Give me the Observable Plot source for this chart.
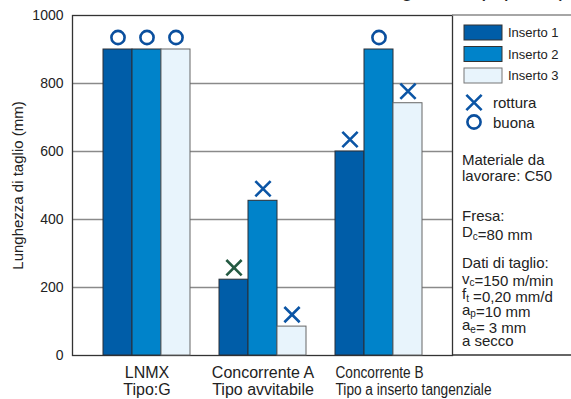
<!DOCTYPE html>
<html><head><meta charset="utf-8">
<script src="https://cdn.jsdelivr.net/npm/d3@7"></script>
<script src="https://cdn.jsdelivr.net/npm/@observablehq/plot@0.6"></script>
<style>
body{margin:0;background:#fff;}
#chart{position:relative;width:571px;height:399px;}
#chart svg{position:absolute;left:0;top:0;overflow:hidden}
</style></head><body><div id="chart"></div>
<script>
// ---- data ----
const groups = ["LNMX", "Concorrente A", "Concorrente B"];
const groupLine1 = ["LNMX", "Concorrente A", "Concorrente B"];
const groupLine2 = ["Tipo:G", "Tipo avvitabile", "Tipo a inserto tangenziale"];
const series = ["Inserto 1", "Inserto 2", "Inserto 3"];
const valuesLNMX = [900, 900, 900];
const valuesA = [223, 455, 85];
const valuesB = [600, 900, 742];
const outcomeLNMX = ["buona", "buona", "buona"];
const outcomeA = ["rottura", "rottura", "rottura"];
const outcomeB = ["rottura", "buona", "rottura"];
const yTicks = [0, 200, 400, 600, 800, 1000];
const seriesColors = ["#005da8", "#0083ca", "#e8f4fc"];
const legendNotes = ["Materiale da", "lavorare: C50"];
const yLabel = "Lunghezza di taglio (mm)";
const titleText = "Confronto della lunghezza (a parità)";

const allValues = [valuesLNMX, valuesA, valuesB];
const allOutcomes = [outcomeLNMX, outcomeA, outcomeB];
const rows = [];
groups.forEach((g, gi) => series.forEach((s, si) => rows.push({
  group: g, series: s, value: allValues[gi][si], outcome: allOutcomes[gi][si],
  mark: (gi === 1 && si === 0) ? "#245a42" : "#0b55a5"
})));
const labelRows = groups.map((g, i) => ({group: g, label: groupLine1[i] + "\n" + groupLine2[i]}));

const font = "'Liberation Sans', Arial, Helvetica, sans-serif";
const common = {
  width: 571, height: 399,
  marginLeft: 72, marginRight: 119, marginTop: 15, marginBottom: 44,
  y: {domain: [0, 1000], axis: null}
};

// background layer: grid, frame, y axis
const back = Plot.plot({
  ...common,
  style: {fontFamily: font, fontSize: "14px", color: "#222", background: "#fff"},
  marks: [
    Plot.gridY(yTicks.slice(1, -1), {stroke: "#8a8a8a", strokeOpacity: 1, strokeWidth: 1.3}),
    Plot.frame({stroke: "#333", strokeWidth: 1.3}),
    Plot.axisY({ticks: yTicks, tickSize: 0, tickPadding: 9, fontSize: 14, tickFormat: d => String(d), label: null}),
    Plot.text([yLabel], {frameAnchor: "left", textAnchor: "middle", dx: -54, rotate: -90, fontSize: 15, fill: "#222"})
  ]
});

// foreground layer: faceted bars and markers
const plot = Plot.plot({
  ...common,
  style: {fontFamily: font, fontSize: "14px", color: "#222", background: "transparent"},
  fx: {domain: groups, paddingInner: 0.25, paddingOuter: 0.25, axis: null},
  x: {domain: series, padding: 0, axis: null},
  color: {domain: series, range: seriesColors},
  marks: [
    Plot.barY(rows, {fx: "group", x: "series", y: "value", fill: "series",
      stroke: d => d.series === "Inserto 3" ? "#666" : "#2a2f36", strokeWidth: 1}),
    Plot.dot(rows.filter(d => d.outcome === "rottura"), {fx: "group", x: "series", y: "value", dy: -12,
      symbol: "times", r: 7, stroke: d => d.mark, strokeWidth: 2.6}),
    Plot.dot(rows.filter(d => d.outcome === "buona"), {fx: "group", x: "series", y: "value", dy: -12,
      symbol: "circle", r: 6.6, stroke: "#0a4f9e", strokeWidth: 2.6, fill: "none"}),
    Plot.text(labelRows.filter(d => d.group !== "Concorrente B"), {fx: "group", text: "label",
      frameAnchor: "bottom", lineAnchor: "top", dy: 10, fontSize: 16, lineHeight: 1.06, fill: "#222"}),
    Plot.text(labelRows.filter(d => d.group === "Concorrente B"), {fx: "group", text: "label",
      frameAnchor: "bottom-left", textAnchor: "start", lineAnchor: "top", dy: 10, fontSize: 16,
      lineHeight: 1.06, fill: "#222"})
  ]
});
const chart = document.getElementById("chart");
chart.appendChild(back);
chart.appendChild(plot);

// condense the long label of the third group, as in the original
d3.select(plot).selectAll("tspan").each(function() {
  const t = this.textContent;
  if (t === groupLine2[2]) d3.select(this).attr("textLength", 156).attr("lengthAdjust", "spacingAndGlyphs");
  if (t === groupLine1[2]) d3.select(this).attr("textLength", 88).attr("lengthAdjust", "spacingAndGlyphs");
});

// ---- legend panel ----
const svg = d3.select(plot);
const color = plot.scale("color");
const g = svg.append("g").attr("font-family", font).attr("fill", "#222").attr("text-anchor", "start");
g.append("line").attr("x1", 452).attr("x2", 571).attr("y1", 15).attr("y2", 15).attr("stroke", "#888").attr("stroke-width", 1.3);
g.append("line").attr("x1", 452).attr("x2", 571).attr("y1", 355).attr("y2", 355).attr("stroke", "#333").attr("stroke-width", 1.3);
g.append("text").attr("x", 566).attr("y", -4).attr("text-anchor", "end").attr("font-size", 22).text(titleText);

series.forEach((s, i) => {
  const y = 25 + i * 21.5;
  g.append("rect").attr("x", 464).attr("y", y).attr("width", 38).attr("height", 15)
    .attr("fill", color.apply(s)).attr("stroke", i === 2 ? "#777" : "#333").attr("stroke-width", 1);
  g.append("text").attr("x", 508).attr("y", y + 12).attr("font-size", 13).text(s);
});
const sym = d3.symbol();
g.append("path").attr("transform", "translate(474,102.5)").attr("d", sym.type(d3.symbolTimes).size(Math.PI * 49)())
  .attr("fill", "none").attr("stroke", "#0b55a5").attr("stroke-width", 2.6);
g.append("text").attr("x", 493).attr("y", 108).attr("font-size", 15).text("rottura");
g.append("circle").attr("cx", 474).attr("cy", 122).attr("r", 6.6).attr("fill", "none").attr("stroke", "#0a4f9e").attr("stroke-width", 2.6);
g.append("text").attr("x", 493).attr("y", 128).attr("font-size", 15).text("buona");

function line(y, parts) {
  const t = g.append("text").attr("x", 462).attr("y", y).attr("font-size", 15);
  parts.forEach(p => {
    if (typeof p === "string") t.append("tspan").text(p);
    else {
      t.append("tspan").attr("font-size", 10).attr("dy", 2.5).text(p.sub);
      t.append("tspan").attr("dy", -2.5).text("");
    }
  });
}
line(165, [legendNotes[0]]);
line(181, [legendNotes[1]]);
line(221, ["Fresa:"]);
line(237, ["D", {sub: "c"}, "=80 mm"]);
line(268, ["Dati di taglio:"]);
line(283.5, ["v", {sub: "c"}, "=150 m/min"]);
line(299, ["f", {sub: "t"}, " =0,20 mm/d"]);
line(314.5, ["a", {sub: "p"}, "=10 mm"]);
line(330, ["a", {sub: "e"}, "= 3 mm"]);
line(345.5, ["a secco"]);
</script></body></html>
